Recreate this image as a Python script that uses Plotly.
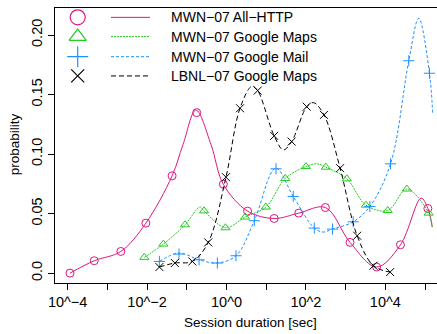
import plotly.graph_objects as go

# ---- data (x as log10 of session duration in seconds, y probability) ----
http_curve_x = [-3.94, -3.33, -2.66, -2.03, -1.37, -1.095, -0.77, -0.39, -0.08, 0.53, 1.20, 1.82, 2.49, 3.11, 3.78, 4.38, 4.90, 5.07, 5.18]
http_curve_y = [0.0, 0.0104, 0.0182, 0.042, 0.0817, 0.108, 0.137, 0.108, 0.0747, 0.0521, 0.0459, 0.0504, 0.0551, 0.0258, 0.0051, 0.0238, 0.063, 0.0543, 0.0387]
http_mark_x = [-3.94, -3.33, -2.66, -2.03, -1.37, -0.75, -0.08, 0.53, 1.20, 1.82, 2.49, 3.11, 3.78, 4.38, 5.07]
http_mark_y = [0.0, 0.0104, 0.0182, 0.042, 0.0817, 0.1348, 0.0747, 0.0521, 0.0459, 0.0504, 0.0551, 0.0258, 0.0051, 0.0238, 0.0543]

maps_curve_x = [-2.07, -1.59, -1.045, -0.667, -0.566, -0.025, 0.47, 0.99, 1.48, 2.00, 2.27, 2.50, 3.03, 3.51, 4.06, 4.54, 5.09, 5.18]
maps_curve_y = [0.0132, 0.0244, 0.0406, 0.0555, 0.0523, 0.0381, 0.0471, 0.0555, 0.0795, 0.0895, 0.0918, 0.089, 0.0792, 0.0571, 0.0526, 0.0706, 0.0504, 0.0387]
maps_mark_x = [-2.07, -1.59, -1.045, -0.566, -0.025, 0.47, 0.99, 1.48, 2.00, 2.50, 3.03, 3.51, 4.06, 4.54, 5.09]
maps_mark_y = [0.0132, 0.0244, 0.0406, 0.0523, 0.0381, 0.0471, 0.0555, 0.0795, 0.0895, 0.089, 0.0792, 0.0571, 0.0526, 0.0706, 0.0504]

mail_curve_x = [-1.69, -1.196, -0.69, -0.23, 0.24, 0.70, 1.24, 1.68, 2.21, 2.43, 2.67, 3.19, 3.61, 4.13, 4.59, 4.84, 5.11, 5.19]
mail_curve_y = [0.0098, 0.0169, 0.0112, 0.0085, 0.0146, 0.044, 0.0882, 0.0644, 0.0378, 0.0345, 0.037, 0.0431, 0.056, 0.0918, 0.1784, 0.214, 0.1679, 0.1348]
mail_mark_x = [-1.69, -1.196, -0.69, -0.23, 0.24, 0.70, 1.246, 1.68, 2.21, 2.67, 3.19, 3.61, 4.13, 4.59, 5.11]
mail_mark_y = [0.0098, 0.016, 0.0112, 0.0085, 0.0146, 0.044, 0.0876, 0.0644, 0.0378, 0.037, 0.0431, 0.056, 0.0918, 0.1784, 0.1679]

lbnl_curve_x = [-1.69, -1.30, -0.86, -0.46, -0.013, 0.34, 0.64, 0.785, 1.20, 1.43, 1.64, 2.02, 2.19, 2.455, 2.86, 3.29, 3.70, 4.12]
lbnl_curve_y = [0.0051, 0.0085, 0.0098, 0.0258, 0.0806, 0.1385, 0.157, 0.1533, 0.1153, 0.1035, 0.1105, 0.1398, 0.1432, 0.1329, 0.0882, 0.0314, 0.0062, 0.0009]
lbnl_mark_x = [-1.69, -1.30, -0.86, -0.46, -0.013, 0.34, 0.785, 1.20, 1.64, 2.02, 2.455, 2.86, 3.29, 3.70, 4.12]
lbnl_mark_y = [0.0051, 0.0085, 0.0098, 0.0258, 0.0806, 0.1385, 0.1533, 0.1153, 0.1105, 0.1398, 0.1329, 0.0882, 0.0314, 0.0062, 0.0009]

series_names = ["MWN\u221207 All\u2212HTTP", "MWN\u221207 Google Maps", "MWN\u221207 Google Mail", "LBNL\u221207 Google Maps"]
tick_exps = [-4, -3, -2, -1, 0, 1, 2, 3, 4, 5]
tick_labels = ["10^\u22124", "", "10^\u22122", "", "10^0", "", "10^2", "", "10^4", ""]
y_ticks = [0.0, 0.05, 0.10, 0.15, 0.20]
y_tick_labels = ["0.0", "0.05", "0.10", "0.15", "0.20"]

colors = ["#E0157F", "#22CC22", "#1E90FF", "#000000"]
dashes = ["solid", "2px,1px", "3px,2px", "5px,3px"]
symbols = ["circle-open", "triangle-up-open", "cross-thin-open", "x-thin-open"]

FONT = "Liberation Sans, Arial, Helvetica, sans-serif"

def sec(v):
    return [10 ** e for e in v]

fig = go.Figure()
curves = [(http_curve_x, http_curve_y, http_mark_x, http_mark_y),
          (maps_curve_x, maps_curve_y, maps_mark_x, maps_mark_y),
          (mail_curve_x, mail_curve_y, mail_mark_x, mail_mark_y),
          (lbnl_curve_x, lbnl_curve_y, lbnl_mark_x, lbnl_mark_y)]
for i, (cx, cy, mx, my) in enumerate(curves):
    fig.add_trace(go.Scatter(x=sec(cx), y=cy, mode="lines",
                             line=dict(color=colors[i], width=1, dash=dashes[i], shape="spline", smoothing=1.0),
                             showlegend=False, hoverinfo="skip"))
    fig.add_trace(go.Scatter(x=sec(mx), y=my, mode="markers",
                             marker=dict(symbol=symbols[i], size=8, color=colors[i], line=dict(width=1, color=colors[i])),
                             showlegend=False, hoverinfo="skip"))

# ---- manual legend (R-style: symbol, line sample, text) ----
leg_rows = [0.966, 0.896, 0.823, 0.753]
leg_sym_x = 0.0594
leg_line_x0, leg_line_x1 = 0.1466, 0.2487
leg_text_x = 0.298
leg_sizes = [15, 15, 15, 13]
for i in range(4):
    fig.add_trace(go.Scatter(x=[leg_sym_x], y=[leg_rows[i]], xaxis="x2", yaxis="y2", mode="markers",
                             marker=dict(symbol=symbols[i], size=leg_sizes[i], color=colors[i],
                                         line=dict(width=1.2, color=colors[i])),
                             showlegend=False, hoverinfo="skip"))
    fig.add_shape(type="line", xref="paper", yref="paper", x0=leg_line_x0, x1=leg_line_x1,
                  y0=leg_rows[i], y1=leg_rows[i], line=dict(color=colors[i], width=1, dash=dashes[i]))
    fig.add_annotation(xref="paper", yref="paper", x=leg_text_x, y=leg_rows[i], text=series_names[i],
                       showarrow=False, xanchor="left", yanchor="middle",
                       font=dict(family=FONT, size=14, color="black"))

# axis titles as annotations (positioned like the R figure)
fig.add_annotation(xref="paper", yref="paper", x=0.512, y=-0.142, text="Session duration [sec]",
                   showarrow=False, xanchor="center", yanchor="middle",
                   font=dict(family=FONT, size=13.5, color="black"))
fig.add_annotation(xref="paper", yref="paper", x=-0.107, y=0.505, text="probability", textangle=-90,
                   showarrow=False, xanchor="center", yanchor="middle",
                   font=dict(family=FONT, size=13.5, color="black"))

fig.update_layout(
    width=437, height=334,
    margin=dict(l=55, r=0, t=8, b=51),
    paper_bgcolor="white", plot_bgcolor="white",
    font=dict(family=FONT, size=14.5, color="black"),
    showlegend=False,
    hovermode=False,
    xaxis=dict(type="log", range=[-4.318, 5.30], tickvals=sec(tick_exps), ticktext=tick_labels,
               ticks="outside", ticklen=6, tickwidth=1, tickcolor="black",
               tickfont=dict(size=14.5), automargin=False,
               showline=True, linecolor="black", linewidth=1, mirror=True,
               showgrid=False, zeroline=False),
    yaxis=dict(range=[-0.0083, 0.2227], tickvals=y_ticks, ticktext=y_tick_labels, tickangle=-90,
               ticks="outside", ticklen=6, tickwidth=1, tickcolor="black",
               tickfont=dict(size=14.5), automargin=False,
               showline=True, linecolor="black", linewidth=1, mirror=False,
               showgrid=False, zeroline=False),
    xaxis2=dict(overlaying="x", range=[0, 1], visible=False, anchor="y2"),
    yaxis2=dict(overlaying="y", range=[0, 1], visible=False, anchor="x2"),
)

fig.write_html("out.html", config={"displayModeBar": False, "staticPlot": True},
               post_script="document.body.style.margin='0px';document.body.style.overflow='hidden';")
